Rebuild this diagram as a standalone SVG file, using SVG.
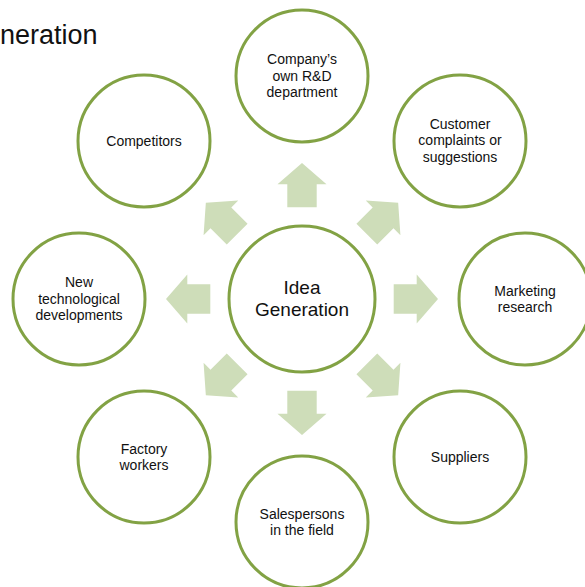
<svg xmlns="http://www.w3.org/2000/svg" xmlns:xlink="http://www.w3.org/1999/xlink" width="585" height="587" viewBox="0 0 585 587">
  <style>
    .node circle { fill: #ffffff; stroke: #82A244; stroke-width: 3; }
    .node text { font-family: "Liberation Sans", Arial, sans-serif; font-size: 14px; fill: #111111; text-anchor: middle; }
    .center text { font-size: 19px; }
    .arrow { fill: #CEDDB9; stroke: none; }
    .title { font-family: "Liberation Sans", Arial, sans-serif; font-size: 27px; fill: #111111; }
  </style>
  <defs>
    <polygon id="arr" class="arrow" points="0,-136 24.5,-114.7 14.7,-114.7 14.7,-91.7 -14.7,-91.7 -14.7,-114.7 -24.5,-114.7"/>
  </defs>
  <rect width="585" height="587" fill="#ffffff"/>
  <text class="title" x="0" y="43.5">neration</text>

  <g id="connectors" transform="translate(302,299)">
    <use xlink:href="#arr" href="#arr" transform="rotate(0)"/>
    <use xlink:href="#arr" href="#arr" transform="rotate(45)"/>
    <use xlink:href="#arr" href="#arr" transform="rotate(90)"/>
    <use xlink:href="#arr" href="#arr" transform="rotate(135)"/>
    <use xlink:href="#arr" href="#arr" transform="rotate(180)"/>
    <use xlink:href="#arr" href="#arr" transform="rotate(225)"/>
    <use xlink:href="#arr" href="#arr" transform="rotate(270)"/>
    <use xlink:href="#arr" href="#arr" transform="rotate(315)"/>
  </g>

  <g id="idea-generation" class="node center">
    <circle cx="302" cy="299" r="73"/>
    <text x="302" y="294">Idea</text>
    <text x="302" y="315.5">Generation</text>
  </g>

  <g id="rnd" class="node">
    <circle cx="302" cy="76" r="66"/>
    <text x="302" y="64">Company’s</text>
    <text x="302" y="80.5">own R&amp;D</text>
    <text x="302" y="97">department</text>
  </g>

  <g id="customer" class="node">
    <circle cx="460" cy="141" r="66"/>
    <text x="460" y="128.5">Customer</text>
    <text x="460" y="145">complaints or</text>
    <text x="460" y="161.5">suggestions</text>
  </g>

  <g id="marketing" class="node">
    <circle cx="525" cy="299" r="66"/>
    <text x="525" y="295.5">Marketing</text>
    <text x="525" y="312">research</text>
  </g>

  <g id="suppliers" class="node">
    <circle cx="460" cy="457" r="66"/>
    <text x="460" y="461.5">Suppliers</text>
  </g>

  <g id="salespersons" class="node">
    <circle cx="302" cy="522" r="66"/>
    <text x="302" y="518.5">Salespersons</text>
    <text x="302" y="535">in the field</text>
  </g>

  <g id="factory" class="node">
    <circle cx="144" cy="457" r="66"/>
    <text x="144" y="453.5">Factory</text>
    <text x="144" y="470">workers</text>
  </g>

  <g id="new-tech" class="node">
    <circle cx="79" cy="299" r="66"/>
    <text x="79" y="287">New</text>
    <text x="79" y="303.5">technological</text>
    <text x="79" y="320">developments</text>
  </g>

  <g id="competitors" class="node">
    <circle cx="144" cy="141" r="66"/>
    <text x="144" y="145.5">Competitors</text>
  </g>
</svg>
